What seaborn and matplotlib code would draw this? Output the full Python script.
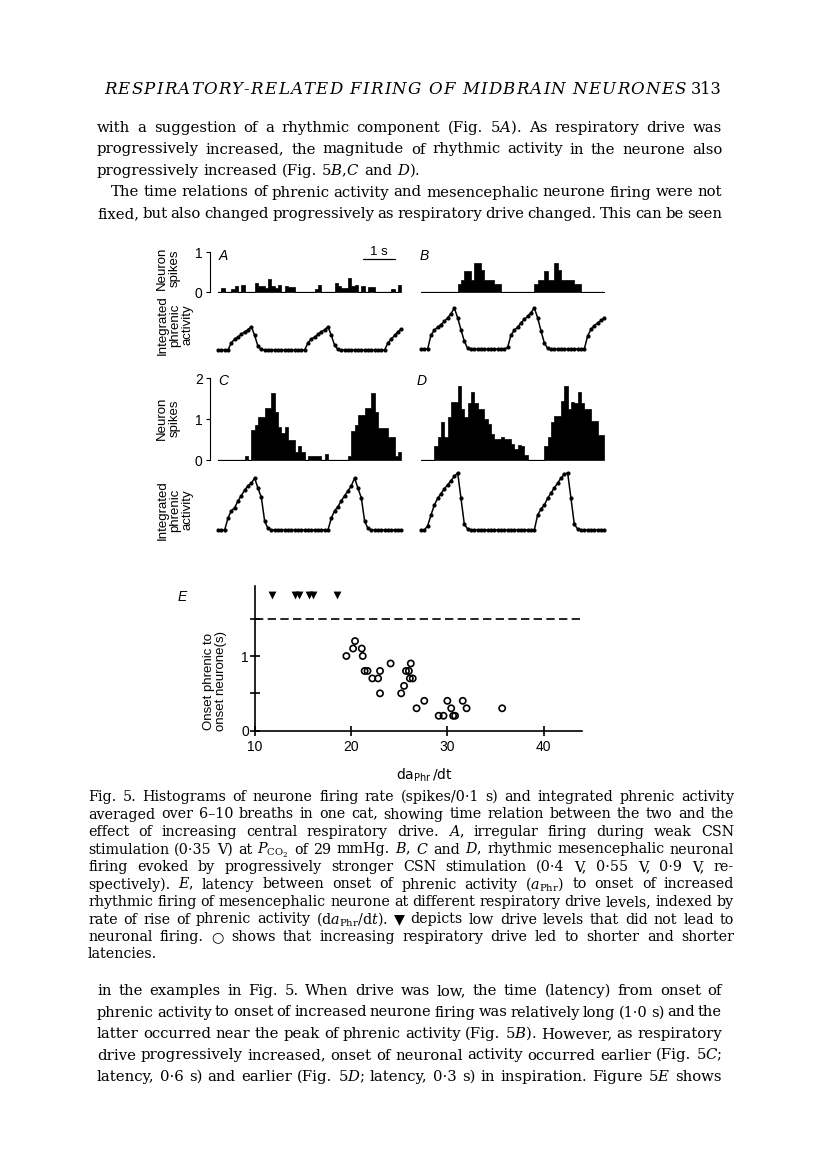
import matplotlib
matplotlib.use('Agg')
import numpy as np
import pandas as pd
import seaborn as sns
import matplotlib.pyplot as plt

W, H = 816, 1169
BIN = 0.1  # s, width of one histogram bin

# neurone spikes per 0.1 s bin (55 bins = 5.5 s), panels A-D
spikes_a = [0, 0.1, 0, 0, 0.08, 0.15, 0, 0.18, 0, 0,
            0, 0.22, 0.14, 0.14, 0.1, 0.33, 0.14, 0.1, 0.18, 0,
            0.14, 0.12, 0.12, 0, 0, 0, 0, 0, 0, 0.08,
            0.17, 0, 0, 0, 0, 0.22, 0.14, 0.1, 0.1, 0.35,
            0.14, 0.17, 0, 0.14, 0, 0.12, 0.12, 0, 0, 0,
            0, 0, 0.08, 0, 0.17]
spikes_b = [0, 0, 0, 0, 0, 0, 0, 0, 0, 0,
            0, 0.21, 0.31, 0.52, 0.52, 0.31, 0.72, 0.72, 0.56, 0.31,
            0.31, 0.31, 0.21, 0.21, 0, 0, 0, 0, 0, 0,
            0, 0, 0, 0, 0.21, 0.31, 0.31, 0.52, 0.31, 0.31,
            0.72, 0.56, 0.31, 0.31, 0.31, 0.31, 0.21, 0.21, 0, 0,
            0, 0, 0, 0, 0]
spikes_c = [0, 0, 0, 0, 0, 0, 0, 0, 0.1, 0,
            0.72, 0.85, 1.05, 1.05, 1.26, 1.26, 1.63, 1.18, 0.8, 0.65,
            0.8, 0.5, 0.5, 0.2, 0.35, 0.2, 0, 0.1, 0.1, 0.1,
            0.1, 0, 0.15, 0, 0, 0, 0, 0, 0, 0.1,
            0.7, 0.85, 1.1, 1.1, 1.27, 1.27, 1.63, 1.17, 0.77, 0.77,
            0.77, 0.55, 0.55, 0.1, 0.2]
spikes_d = [0, 0, 0, 0, 0.35, 0.55, 0.92, 0.55, 1.04, 1.42,
            1.42, 1.8, 1.24, 1.04, 1.38, 1.67, 1.4, 1.24, 1.24, 1.0,
            0.88, 0.63, 0.51, 0.51, 0.57, 0.51, 0.51, 0.39, 0.27, 0.37,
            0.35, 0.12, 0, 0, 0, 0, 0, 0.35, 0.55, 0.92,
            1.08, 1.08, 1.45, 1.81, 1.24, 1.42, 1.4, 1.67, 1.4, 1.24,
            1.24, 0.96, 0.96, 0.6, 0.6]

# integrated phrenic activity, sampled every 0.1 s (56 points), arbitrary units
phr_a = [0, 0, 0, 0, 0.14, 0.21, 0.25, 0.3, 0.35, 0.39,
         0.45, 0.28, 0.07, 0.01, 0, 0, 0, 0, 0, 0,
         0, 0, 0, 0, 0, 0, 0, 0.14, 0.21, 0.25,
         0.3, 0.35, 0.39, 0.45, 0.28, 0.09, 0.01, 0, 0, 0,
         0, 0, 0, 0, 0, 0, 0, 0, 0, 0,
         0, 0.14, 0.21, 0.28, 0.35, 0.41]
phr_b = [0, 0, 0, 0.27, 0.36, 0.42, 0.47, 0.53, 0.6, 0.68,
         0.79, 0.6, 0.37, 0.15, 0.01, 0, 0, 0, 0, 0,
         0, 0, 0, 0, 0, 0, 0.03, 0.27, 0.36, 0.42,
         0.5, 0.57, 0.63, 0.7, 0.79, 0.6, 0.35, 0.12, 0.01, 0,
         0, 0, 0, 0, 0, 0, 0, 0, 0, 0,
         0.25, 0.38, 0.45, 0.5, 0.55, 0.6]
phr_c = [0, 0, 0, 0.23, 0.37, 0.43, 0.56, 0.66, 0.77, 0.85,
         0.9, 1.0, 0.8, 0.63, 0.17, 0.03, 0, 0, 0, 0,
         0, 0, 0, 0, 0, 0, 0, 0, 0, 0,
         0, 0, 0, 0, 0.23, 0.37, 0.45, 0.56, 0.66, 0.75,
         0.85, 1.0, 0.8, 0.62, 0.17, 0.03, 0, 0, 0, 0,
         0, 0, 0, 0, 0, 0]
phr_d = [0, 0, 0.08, 0.29, 0.48, 0.61, 0.7, 0.79, 0.87, 0.95,
         1.03, 1.1, 0.61, 0.11, 0.02, 0, 0, 0, 0, 0,
         0, 0, 0, 0, 0, 0, 0, 0, 0, 0,
         0, 0, 0, 0, 0, 0.29, 0.4, 0.48, 0.61, 0.71,
         0.81, 0.9, 1.0, 1.07, 1.1, 0.61, 0.11, 0.02, 0, 0,
         0, 0, 0, 0, 0, 0]

# panel E: latency onset phrenic -> onset neurone vs daPhr/dt
resp_x = [19.5, 20.2, 20.4, 21.1, 21.2, 21.4, 21.7, 22.2, 22.8, 23.0,
          23.0, 24.1, 25.2, 25.5, 25.7, 26.0, 26.2, 26.1, 26.4, 26.8,
          27.6, 29.1, 29.6, 30.0, 30.4, 30.6, 30.8, 31.6, 32.0, 35.7]
resp_y = [1.0, 1.1, 1.2, 1.1, 1.0, 0.8, 0.8, 0.7, 0.7, 0.8,
          0.5, 0.9, 0.5, 0.6, 0.8, 0.8, 0.9, 0.7, 0.7, 0.3,
          0.4, 0.2, 0.2, 0.4, 0.3, 0.2, 0.2, 0.4, 0.3, 0.3]
nofire_x = [11.8, 14.2, 14.6, 15.6, 16.0, 18.5]
nofire_y = [1.82, 1.82, 1.82, 1.82, 1.82, 1.82]
no_fire_level = 1.5

# page text
header = "RESPIRATORY-RELATED FIRING OF MIDBRAIN NEURONES"
page_no = "313"
para_top = [
    ("with a suggestion of a rhythmic component (Fig. 5$\\mathit{A}$). As respiratory drive was", 97, True),
    ("progressively increased, the magnitude of rhythmic activity in the neurone also", 97, True),
    ("progressively increased (Fig. 5$\\mathit{B}$,$\\mathit{C}$ and $\\mathit{D}$).", 97, False),
    ("The time relations of phrenic activity and mesencephalic neurone firing were not", 111, True),
    ("fixed, but also changed progressively as respiratory drive changed. This can be seen", 97, True),
]
caption = [
    ("Fig. 5. Histograms of neurone firing rate (spikes/0·1 s) and integrated phrenic activity", True),
    ("averaged over 6–10 breaths in one cat, showing time relation between the two and the", True),
    ("effect of increasing central respiratory drive. $\\mathit{A}$, irregular firing during weak CSN", True),
    ("stimulation (0·35 V) at $P_{\\mathrm{CO}_2}$ of 29 mmHg. $\\mathit{B}$, $\\mathit{C}$ and $\\mathit{D}$, rhythmic mesencephalic neuronal", True),
    ("firing evoked by progressively stronger CSN stimulation (0·4 V, 0·55 V, 0·9 V, re-", True),
    ("spectively). $\\mathit{E}$, latency between onset of phrenic activity ($a_{\\mathrm{Phr}}$) to onset of increased", True),
    ("rhythmic firing of mesencephalic neurone at different respiratory drive levels, indexed by", True),
    ("rate of rise of phrenic activity (d$a_{\\mathrm{Phr}}$/d$t$). ▼ depicts low drive levels that did not lead to", True),
    ("neuronal firing. ○ shows that increasing respiratory drive led to shorter and shorter", True),
    ("latencies.", False),
]
para_bottom = [
    ("in the examples in Fig. 5. When drive was low, the time (latency) from onset of", True),
    ("phrenic activity to onset of increased neurone firing was relatively long (1·0 s) and the", True),
    ("latter occurred near the peak of phrenic activity (Fig. 5$\\mathit{B}$). However, as respiratory", True),
    ("drive progressively increased, onset of neuronal activity occurred earlier (Fig. 5$\\mathit{C}$;", True),
    ("latency, 0·6 s) and earlier (Fig. 5$\\mathit{D}$; latency, 0·3 s) in inspiration. Figure 5$\\mathit{E}$ shows", True),
]

sns.set_style('ticks')
plt.rcParams['font.family'] = ['DejaVu Serif', 'DejaVu Sans']
plt.rcParams['mathtext.fontset'] = 'dejavuserif'
plt.rcParams.update({'text.color': 'black', 'axes.edgecolor': 'black', 'axes.labelcolor': 'black',
                     'xtick.color': 'black', 'ytick.color': 'black'})
SANS = ['Liberation Sans', 'DejaVu Sans']

fig = plt.figure(figsize=(W / 100, H / 100), dpi=100)
fig.patch.set_facecolor('white')
renderer = fig.canvas.get_renderer()


def add_ax(x, y, w, h):
    # x, y: left / top edge in page pixels
    ax = fig.add_axes([x / W, 1 - (y + h) / H, w / W, h / H])
    ax.patch.set_alpha(0)
    return ax


def put_line(text, x0, x1, y, size, justify=True, **kw):
    """place one line of text word by word, stretched between x0 and x1"""
    words = text.split()
    while True:
        arts = [fig.text(0, 0, w, fontsize=size, va='baseline', ha='left', **kw) for w in words]
        widths = [a.get_window_extent(renderer).width for a in arts]
        space = size * 0.3 * 100 / 72
        if justify and len(arts) > 1:
            gap = (x1 - x0 - sum(widths)) / (len(arts) - 1)
            if gap < 0.6 * space:
                # too long for the measure: shrink this line a little
                for a in arts:
                    a.remove()
                size *= 0.985
                continue
        else:
            gap = space
        break
    x = x0
    for a, w in zip(arts, widths):
        a.set_position((x / W, 1 - y / H))
        x += w + gap


def put_tracked(text, x0, x1, y, size, **kw):
    """letter-spaced line (running head)"""
    arts, widths = [], []
    for ch in text:
        a = fig.text(0, 0, ch, fontsize=size, va='baseline', ha='left', **kw)
        arts.append(a)
        widths.append(size * 0.3 * 100 / 72 if ch == ' ' else a.get_window_extent(renderer).width)
    gap = (x1 - x0 - sum(widths)) / (len(arts) - 1)
    x = x0
    for a, w in zip(arts, widths):
        a.set_position((x / W, 1 - y / H))
        x += w + gap


def sans_ticks(ax):
    for lab in ax.get_xticklabels() + ax.get_yticklabels():
        lab.set_fontfamily(SANS)


def spikes_panel(x0, y0, h, vals, ymax, ticks=None):
    ax = add_ax(x0, y0, 183.3, h)
    df = pd.DataFrame({'t': np.arange(len(vals)) * BIN + BIN / 2, 'n': vals})
    sns.histplot(data=df, x='t', weights='n', bins=len(vals), binrange=(0, len(vals) * BIN),
                 element='step', fill=True, color='black', alpha=1, linewidth=0.5, ax=ax)
    ax.axhline(0, color='black', lw=0.9)
    ax.set_xlim(0, 5.5)
    ax.set_ylim(0, ymax)
    ax.set(xlabel='', ylabel='')
    for s in ['top', 'right', 'bottom']:
        ax.spines[s].set_visible(False)
    ax.set_xticks([])
    if ticks is None:
        ax.spines['left'].set_visible(False)
        ax.set_yticks([])
    else:
        ax.spines['left'].set_position(('outward', 6))
        ax.spines['left'].set_bounds(0, ticks[-1])
        ax.spines['left'].set_linewidth(0.8)
        ax.set_yticks(ticks, labels=[str(v) for v in ticks])
        ax.tick_params(axis='y', direction='out', length=3, width=0.8, pad=2, labelsize=10)
        sans_ticks(ax)
    return ax


def phrenic_panel(x0, base_y, vals):
    unit = 52.0
    ax = add_ax(x0, base_y - unit, 183.3, unit)
    df = pd.DataFrame({'t': np.arange(len(vals)) * BIN, 'v': vals})
    sns.lineplot(data=df, x='t', y='v', color='black', lw=1.1, marker='o', markersize=3,
                 markeredgewidth=0, ax=ax)
    for ln in ax.lines:
        ln.set_clip_on(False)
    ax.set_xlim(0, 5.5)
    ax.set_ylim(0, 1)
    ax.axis('off')
    return ax


# ---------- text blocks ----------
put_tracked(header, 104, 686, 94, 12, style='italic')
fig.text(722 / W, 1 - 94 / H, page_no, fontsize=11.5, ha='right', va='baseline')

for k, (txt, x0, just) in enumerate(para_top):
    put_line(txt, x0, 722, 132 + k * 21.5, 10.7, justify=just)

for k, (txt, just) in enumerate(caption):
    put_line(txt, 88, 734, 801 + k * 17.5, 10.3, justify=just)

for k, (txt, just) in enumerate(para_bottom):
    put_line(txt, 97, 722, 995 + k * 21.5, 10.7, justify=just)

# ---------- histograms / phrenic traces ----------
ax_a = spikes_panel(218, 252, 40, spikes_a, 1, ticks=[0, 1])
ax_b = spikes_panel(421, 252, 40, spikes_b, 1)
ax_c = spikes_panel(218, 378, 82, spikes_c, 2, ticks=[0, 1, 2])
ax_d = spikes_panel(421, 378, 82, spikes_d, 2)

phrenic_panel(218, 350, phr_a)
phrenic_panel(421, 349, phr_b)
phrenic_panel(218, 530, phr_c)
phrenic_panel(421, 530, phr_d)

# 1 s time bar
ax_a.plot([4.35, 5.31], [0.83, 0.83], color='black', lw=0.9, clip_on=False)
ax_a.text(4.83, 1.0, '1 s', ha='center', va='center', fontsize=9.5, family=SANS)

for lab, x, y in [('A', 223, 256), ('B', 424, 256), ('C', 223, 381), ('D', 422, 381)]:
    fig.text(x / W, 1 - y / H, lab, ha='center', va='center', fontsize=10,
             style='italic', family=SANS)

for y in [268, 418]:
    fig.text(168 / W, 1 - y / H, 'Neuron\nspikes', rotation=90, ha='center', va='center',
             multialignment='center', fontsize=9.5, family=SANS, linespacing=1.05)
for y in [325, 510]:
    fig.text(175 / W, 1 - y / H, 'Integrated\nphrenic\nactivity', rotation=90, ha='center',
             va='center', multialignment='center', fontsize=9.5, family=SANS, linespacing=1.05)

# ---------- panel E ----------
ax_e = add_ax(255, 585.8, 327, 144.9)
sns.scatterplot(x=resp_x, y=resp_y, marker='o', s=20, ax=ax_e, clip_on=False)
circles = ax_e.collections[-1]
circles.set_facecolor('none')
circles.set_edgecolor('black')
circles.set_linewidth(1.2)
sns.scatterplot(x=nofire_x, y=nofire_y, marker='v', s=32, color='black', linewidth=0,
                ax=ax_e, clip_on=False)
ax_e.axhline(no_fire_level, color='black', lw=1.2, ls=(0, (5, 2.6)))
ax_e.set_xlim(10, 44)
ax_e.set_ylim(0, 1.94)
ax_e.set(xlabel='', ylabel='')
ax_e.spines['top'].set_visible(False)
ax_e.spines['right'].set_visible(False)
for s in ['left', 'bottom']:
    ax_e.spines[s].set_linewidth(1.2)
ax_e.set_xticks([10, 20, 30, 40], labels=['10', '20', '30', '40'])
ax_e.set_yticks([0, 0.5, 1, 1.5], labels=['0', '', '1', ''])
ax_e.tick_params(direction='inout', length=7, width=1.2, labelsize=10)
ax_e.tick_params(axis='x', pad=3)
ax_e.tick_params(axis='y', pad=1)
sans_ticks(ax_e)

fig.text(182 / W, 1 - 597 / H, 'E', ha='center', va='center', fontsize=10,
         style='italic', family=SANS)
fig.text(215 / W, 1 - 681 / H, 'Onset phrenic to\nonset neurone(s)', rotation=90,
         ha='center', va='center', multialignment='center', fontsize=9.5, family=SANS,
         linespacing=1.1)
fig.text(424 / W, 1 - 775 / H, r'$\mathrm{da}_{\mathrm{Phr}}\,/\mathrm{dt}$', ha='center',
         va='center', fontsize=10, math_fontfamily='dejavusans')

fig.savefig('out.png', dpi=100)
